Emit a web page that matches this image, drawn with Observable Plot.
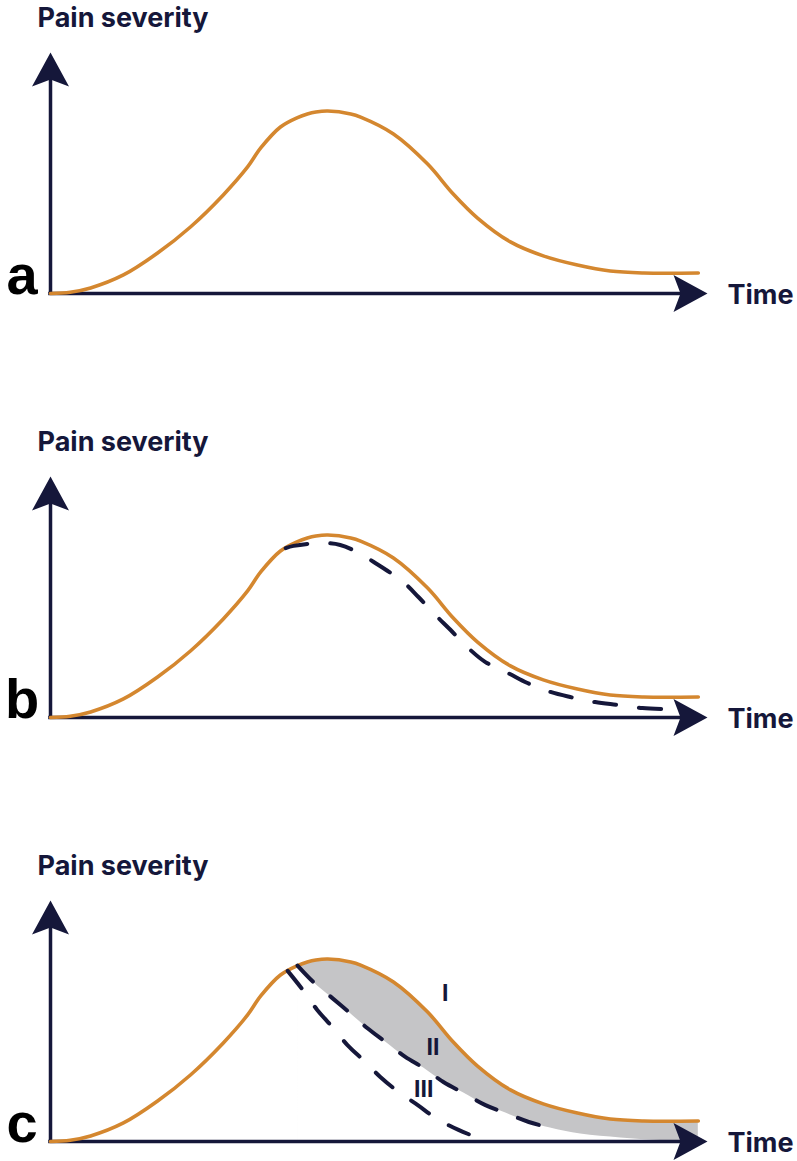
<!DOCTYPE html>
<html>
<head>
<meta charset="utf-8">
<script src="https://cdn.jsdelivr.net/npm/d3@7"></script>
<script src="https://cdn.jsdelivr.net/npm/@observablehq/plot@0.6"></script>
<style>
  html, body { margin: 0; padding: 0; background: #ffffff; }
  #chart { width: 797px; }
  #chart svg { display: block; }
  .panel { margin: 0 0 111px 0; }
  .panel:last-child { margin-bottom: 0; }
</style>
</head>
<body>
<div id="chart"></div>
<script>
// ---------------- data ----------------
const panelLetters = ["a", "b", "c"];
const yAxisLabel = "Pain severity";
const xAxisLabel = "Time";

// Orange pain curve (identical in all three panels); arbitrary units 0..100
const orangeTime = [0, 3.0, 6.1, 11.1, 16.3, 21.3, 26.3, 30.0, 32.0, 35.0, 37.6, 39.1, 40.4, 42.2, 45.7, 47.2, 52.2, 57.4, 61.3, 65.0, 70.0, 75.0, 80.2, 85.2, 90.3, 98.6];
const orangePain = [0, 0.5, 2.3, 7.7, 16.8, 27.6, 40.9, 52.5, 60.4, 69.1, 73.0, 74.5, 75.3, 75.7, 74.5, 73.2, 66.2, 53.7, 41.3, 31.3, 21.4, 15.6, 11.8, 9.3, 8.5, 8.5];

// Panel b: dashed curve
const bTime = [35.8, 37.0, 41.1, 44.1, 46.4, 49.2, 53.7, 56.0, 58.6, 60.9, 63.6, 66.2, 69.6, 72.6, 76.1, 79.1, 82.9, 86.3, 90.1, 93.6];
const bPain = [70.3, 71.2, 72.4, 71.6, 69.0, 64.5, 56.2, 50.0, 42.5, 36.3, 28.8, 23.0, 18.5, 14.3, 10.6, 8.5, 6.4, 5.2, 3.9, 3.5];

// Panel c: curve II (dashed part) and its continuation under the shaded band
const iiTime = [37.6, 40.0, 42.9, 45.4, 48.2, 51.0, 54.0, 56.8, 59.8, 62.9, 66.2, 69.3, 72.8, 76.1];
const iiPain = [73.0, 66.2, 59.5, 53.7, 47.1, 41.3, 35.1, 30.5, 24.7, 20.1, 15.1, 11.8, 8.1, 5.6];
const iiTailTime = [80.7, 86.8, 92.8, 98.6];
const iiTailPain = [3.1, 1.5, 0.4, 0.2];

// Panel c: curve III
const iiiTime = [36.1, 38.4, 40.6, 42.9, 45.2, 47.6, 50.2, 53.0, 55.9, 58.6, 62.1, 65.1];
const iiiPain = [70.8, 62.9, 54.6, 47.5, 40.0, 33.8, 26.8, 20.5, 15.1, 9.8, 4.8, 1.5];

// Panel c: curve labels
const curveLabels = ["I", "II", "III"];
const curveLabelTime = [60.1, 58.2, 56.8];
const curveLabelPain = [61.4, 39.0, 21.6];

// ---------------- helpers ----------------
const zip = (t, p) => t.map((d, i) => ({t: d, p: p[i]}));
const orange = zip(orangeTime, orangePain);
const dashedB = zip(bTime, bPain);
const curveII = zip(iiTime, iiPain);
const curveIIFull = curveII.concat(zip(iiTailTime, iiTailPain));
const curveIII = zip(iiiTime, iiiPain);
const labelsC = curveLabels.map((s, i) => ({s, t: curveLabelTime[i], p: curveLabelPain[i]}));

const X_DOMAIN = [0, 100];
const Y_DOMAIN = [0, 100];

const NAVY = "#15173a";
const ORANGE = "#d4872f";
const GRAY = "#c5c5c7";
const DASH = "22,23";

const arrowUp = {
  draw(ctx) {
    ctx.moveTo(0, 0);
    ctx.lineTo(18.5, 34);
    ctx.lineTo(0, 27);
    ctx.lineTo(-18.5, 34);
    ctx.closePath();
  }
};
const arrowRight = {
  draw(ctx) {
    ctx.moveTo(0, 0);
    ctx.lineTo(-34, 18.5);
    ctx.lineTo(-27, 0);
    ctx.lineTo(-34, -18.5);
    ctx.closePath();
  }
};

function panel(letter, extraBelow, extraAbove) {
  const [x0, x1] = X_DOMAIN;
  const [y0, y1] = Y_DOMAIN;
  return Plot.plot({
    width: 797,
    height: 313,
    marginLeft: 50,
    marginRight: 90,
    marginTop: 52,
    marginBottom: 20,
    x: {domain: X_DOMAIN, axis: null},
    y: {domain: Y_DOMAIN, axis: null},
    style: {fontFamily: "Inter, sans-serif", background: "#ffffff", overflow: "visible"},
    marks: [
      ...extraBelow,
      // axes
      Plot.ruleX([x0], {y1: y0, y2: y1 - 9, stroke: NAVY, strokeWidth: 3.5, strokeLinecap: "square"}),
      Plot.ruleY([y0], {x1: x0, x2: x1 - 3.5, stroke: NAVY, strokeWidth: 3.5, strokeLinecap: "square"}),
      Plot.dot([{x: x0, y: y1}], {x: "x", y: "y", symbol: arrowUp, fill: NAVY, stroke: null}),
      Plot.dot([{x: x1, y: y0}], {x: "x", y: "y", symbol: arrowRight, fill: NAVY, stroke: null}),
      // orange curve
      Plot.line(orange, {x: "t", y: "p", stroke: ORANGE, strokeWidth: 3.6, curve: "catmull-rom"}),
      ...extraAbove,
      // texts
      Plot.text([yAxisLabel], {x: () => x0, y: () => y1, dx: -13, dy: -25.5, textAnchor: "start", lineAnchor: "bottom",
        fontSize: 27, fontWeight: 700, fill: NAVY, fontFamily: "Inter"}),
      Plot.text([xAxisLabel], {x: () => x1, y: () => y0, dx: 20, dy: 10.5, textAnchor: "start", lineAnchor: "bottom",
        fontSize: 27, fontWeight: 700, fill: NAVY, fontFamily: "Inter"}),
      Plot.text([letter], {x: () => x0, y: () => y0, dx: -28.5, dy: 0, textAnchor: "middle", lineAnchor: "bottom",
        fontSize: 56, fontWeight: 700, fill: "#000000", fontFamily: "Liberation Sans, Arial, sans-serif"})
    ]
  });
}

const dashedStyle = {x: "t", y: "p", stroke: NAVY, strokeWidth: 4, strokeDasharray: DASH, curve: "catmull-rom"};

const pA = panel(panelLetters[0], [], []);
const pB = panel(panelLetters[1], [], [Plot.line(dashedB, dashedStyle)]);
const pC = panel(panelLetters[2], [
  Plot.areaY(orange.filter(d => d.t >= iiTime[0]), {x: "t", y: "p", fill: GRAY, curve: "catmull-rom"}),
  Plot.areaY(curveIIFull, {x: "t", y: "p", fill: "#ffffff", curve: "catmull-rom"})
], [
  Plot.line(curveII, dashedStyle),
  Plot.line(curveIII, dashedStyle),
  Plot.text(labelsC, {x: "t", y: "p", text: "s", textAnchor: "middle", lineAnchor: "middle",
    fontSize: 23, fontWeight: 700, fill: NAVY, fontFamily: "Inter"})
]);

const chart = document.getElementById("chart");
for (const p of [pA, pB, pC]) {
  p.classList.add("panel");
  chart.appendChild(p);
}
</script>
</body>
</html>
